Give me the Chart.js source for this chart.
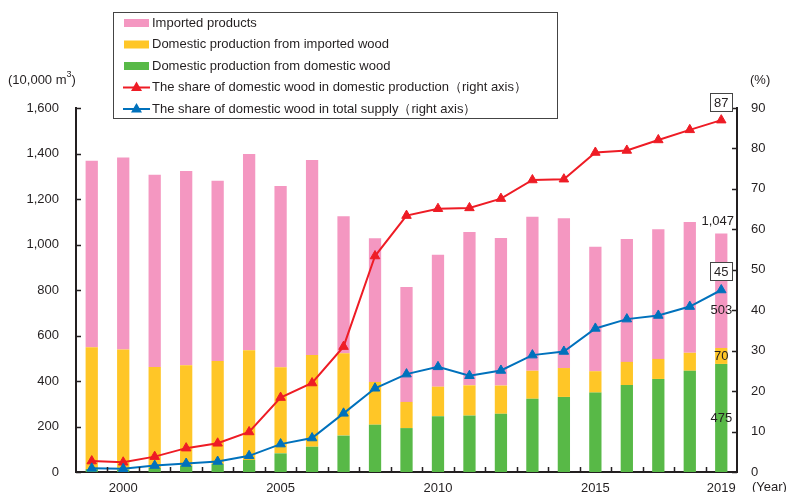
<!DOCTYPE html>
<html>
<head>
<meta charset="utf-8">
<script src="https://cdn.jsdelivr.net/npm/chart.js@4/dist/chart.umd.min.js"></script>
<style>
  html, body { margin: 0; padding: 0; background: #fff; }
  #wrap { width: 792px; height: 492px; }
</style>
</head>
<body>
<div id="wrap"><canvas id="myChart" width="792" height="492"></canvas></div>
<script>
// supply of wood, 10,000 m3, and shares of domestic wood in %
const years = ['1999', '2000', '2001', '2002', '2003', '2004', '2005', '2006', '2007', '2008', '2009',
               '2010', '2011', '2012', '2013', '2014', '2015', '2016', '2017', '2018', '2019'];
const imported = [820, 844, 845, 854, 792, 863, 797, 857, 602, 631, 505, 580, 674, 649, 677, 658, 547, 540, 570, 575, 503];
const fromImportedWood = [535, 527, 444, 441, 453, 482, 378, 403, 362, 188, 115, 130, 133, 124, 123, 127, 94, 102, 88, 79, 70];
const fromDomesticWood = [13, 11, 18, 28, 35, 53, 82, 111, 160, 208, 193, 245, 248, 256, 322, 330, 349, 382, 409, 445, 475];
const shareInProduction = [2.7, 2.4, 3.8, 5.9, 7.1, 9.9, 18.4, 22.0, 31.0, 53.4, 63.4, 65.1, 65.3, 67.6, 72.2, 72.4, 79.0, 79.5, 82.1, 84.6, 87];
const shareInSupply = [0.9, 0.8, 1.6, 2.1, 2.6, 4.0, 6.9, 8.4, 14.5, 20.7, 24.2, 26.0, 23.8, 25.1, 28.9, 29.8, 35.5, 37.8, 38.7, 40.9, 45];
const totalLast = 1047;
const xLabels = ['2000', '2005', '2010', '2015', '2019'];
const leftTicks = [0, 200, 400, 600, 800, 1000, 1200, 1400, 1600];
const rightTicks = [0, 10, 20, 30, 40, 50, 60, 70, 80, 90];

const FONT = 'Liberation Sans, Arial, sans-serif';
const INK = '#231f20';
const PINK = '#f497c1', YELLOW = '#ffc627', GREEN = '#58b947';
const RED = '#ee1c25', BLUE = '#0071bc';

// inward tick marks, the legend box and the value call-outs
const extras = {
  id: 'extras',
  afterDatasetsDraw(chart) {
    const ctx = chart.ctx;
    const a = chart.chartArea;
    const x = chart.scales.x, y = chart.scales.y, y1 = chart.scales.y1;
    ctx.save();
    ctx.strokeStyle = INK;
    ctx.lineWidth = 1.5;
    ctx.beginPath();
    leftTicks.forEach(v => {
      const py = Math.round(y.getPixelForValue(v)) + 0.5;
      ctx.moveTo(a.left, py); ctx.lineTo(a.left + 5, py);
    });
    rightTicks.forEach(v => {
      const py = Math.round(y1.getPixelForValue(v)) + 0.5;
      ctx.moveTo(a.right, py); ctx.lineTo(a.right - 5, py);
    });
    const step = (a.right - a.left) / years.length;
    for (let k = 1; k < years.length; k++) {
      const px = Math.round(a.left + k * step) + 0.5;
      ctx.moveTo(px, a.bottom); ctx.lineTo(px, a.bottom - 5);
    }
    ctx.stroke();

    // axis units
    ctx.fillStyle = INK;
    ctx.font = '13px ' + FONT;
    ctx.textBaseline = 'middle';
    ctx.textAlign = 'left';
    ctx.fillText('(10,000 m', 8, 80);
    const w = ctx.measureText('(10,000 m').width;
    ctx.font = '9px ' + FONT;
    ctx.fillText('3', 8 + w, 75);
    ctx.font = '13px ' + FONT;
    ctx.fillText(')', 8 + w + 5, 80);
    ctx.fillText('(%)', 750, 80);
    ctx.fillText('(Year)', 752, 487);

    // values for the last year
    const last = years.length - 1;
    const bx = x.getPixelForValue(last);
    const top = fromDomesticWood[last] + fromImportedWood[last] + imported[last];
    ctx.textAlign = 'center';
    ctx.fillText(String(fromDomesticWood[last]), bx, y.getPixelForValue(fromDomesticWood[last] / 2));
    ctx.fillText(String(fromImportedWood[last]), bx, y.getPixelForValue(fromDomesticWood[last] + fromImportedWood[last] / 2));
    ctx.fillText(String(imported[last]), bx, y.getPixelForValue(top - imported[last] * 0.67));
    ctx.textAlign = 'right';
    ctx.fillText(totalLast.toLocaleString('en-US'), a.right - 3, y.getPixelForValue(top) - 12);

    // boxed shares
    [[shareInProduction[last], 18], [shareInSupply[last], 19]].forEach(([v, off]) => {
      const cy = y1.getPixelForValue(v) - off;
      ctx.fillStyle = '#fff';
      ctx.fillRect(bx - 11, cy - 9, 22, 18);
      ctx.strokeStyle = '#444';
      ctx.lineWidth = 1;
      ctx.strokeRect(Math.round(bx - 11) + 0.5, Math.round(cy - 9) + 0.5, 22, 18);
      ctx.fillStyle = INK;
      ctx.textAlign = 'center';
      ctx.fillText(String(v), bx, cy + 1);
    });

    // legend
    const lx = 113.5, ly = 12.5;
    ctx.fillStyle = '#fff';
    ctx.fillRect(lx, ly, 444, 106);
    ctx.strokeStyle = '#444';
    ctx.lineWidth = 1;
    ctx.strokeRect(lx, ly, 444, 106);
    ctx.textAlign = 'left';
    const items = [chart.data.datasets[2], chart.data.datasets[1], chart.data.datasets[0],
                   chart.data.datasets[3], chart.data.datasets[4]];
    items.forEach((ds, i) => {
      const ry = 23 + i * 21.5;
      if (ds.type === 'bar') {
        ctx.fillStyle = ds.backgroundColor;
        ctx.fillRect(124, ry - 4, 25, 8);
      } else {
        ctx.strokeStyle = ds.borderColor;
        ctx.lineWidth = 2;
        ctx.beginPath(); ctx.moveTo(123, ry); ctx.lineTo(150, ry); ctx.stroke();
        ctx.fillStyle = ds.borderColor;
        ctx.beginPath();
        ctx.moveTo(136.5, ry - 6); ctx.lineTo(142, ry + 3.5); ctx.lineTo(131, ry + 3.5);
        ctx.closePath(); ctx.fill();
      }
      ctx.fillStyle = INK;
      ctx.fillText(ds.label, 152, ry);
    });
    ctx.restore();
  }
};

// fixed axis sizes; the label overflow above/below is not reserved
function fixWidth(width) {
  return s => { s.width = width; s.paddingTop = 0; s.paddingBottom = 0; };
}

var ctx = document.getElementById('myChart').getContext('2d');
var chart = new Chart(ctx, {
  data: {
    labels: years,
    datasets: [
      { type: 'bar', label: 'Domestic production from domestic wood', data: fromDomesticWood,
        backgroundColor: GREEN, yAxisID: 'y', order: 3 },
      { type: 'bar', label: 'Domestic production from imported wood', data: fromImportedWood,
        backgroundColor: YELLOW, yAxisID: 'y', order: 3 },
      { type: 'bar', label: 'Imported products', data: imported,
        backgroundColor: PINK, yAxisID: 'y', order: 3 },
      { type: 'line', label: 'The share of domestic wood in domestic production\uff08right axis\uff09',
        data: shareInProduction, yAxisID: 'y1', borderColor: RED, backgroundColor: RED,
        borderWidth: 2, pointStyle: 'triangle', pointRadius: 5.5, pointBorderWidth: 1,
        tension: 0, order: 2 },
      { type: 'line', label: 'The share of domestic wood in total supply\uff08right axis\uff09',
        data: shareInSupply, yAxisID: 'y1', borderColor: BLUE, backgroundColor: BLUE,
        borderWidth: 2, pointStyle: 'triangle', pointRadius: 5.5, pointBorderWidth: 1,
        tension: 0, order: 1 }
    ]
  },
  plugins: [extras],
  options: {
    responsive: false,
    animation: false,
    layout: { padding: { top: 108, left: 0, right: 0, bottom: 0 } },
    datasets: { bar: { barPercentage: 0.39, categoryPercentage: 1 } },
    plugins: { legend: { display: false }, tooltip: { enabled: false } },
    scales: {
      x: {
        stacked: true,
        grid: { display: false, drawTicks: false },
        border: { color: INK, width: 2 },
        ticks: {
          autoSkip: false, maxRotation: 0, padding: 9, color: INK,
          font: { family: FONT, size: 13 },
          callback: function (v) {
            const lab = this.getLabelForValue(v);
            return xLabels.includes(lab) ? lab : '';
          }
        },
        afterFit: s => { s.height = 20; }
      },
      y: {
        stacked: true, position: 'left', min: 0, max: 1600,
        grid: { display: false, drawTicks: false },
        border: { color: INK, width: 2 },
        ticks: {
          stepSize: 200, padding: 17, color: INK,
          font: { family: FONT, size: 13 },
          callback: v => v.toLocaleString('en-US')
        },
        afterFit: fixWidth(76)
      },
      y1: {
        position: 'right', min: 0, max: 90,
        grid: { display: false, drawTicks: false },
        border: { color: INK, width: 2 },
        ticks: { stepSize: 10, padding: 14, color: INK, font: { family: FONT, size: 13 } },
        afterFit: fixWidth(55)
      }
    }
  }
});
</script>
</body>
</html>
